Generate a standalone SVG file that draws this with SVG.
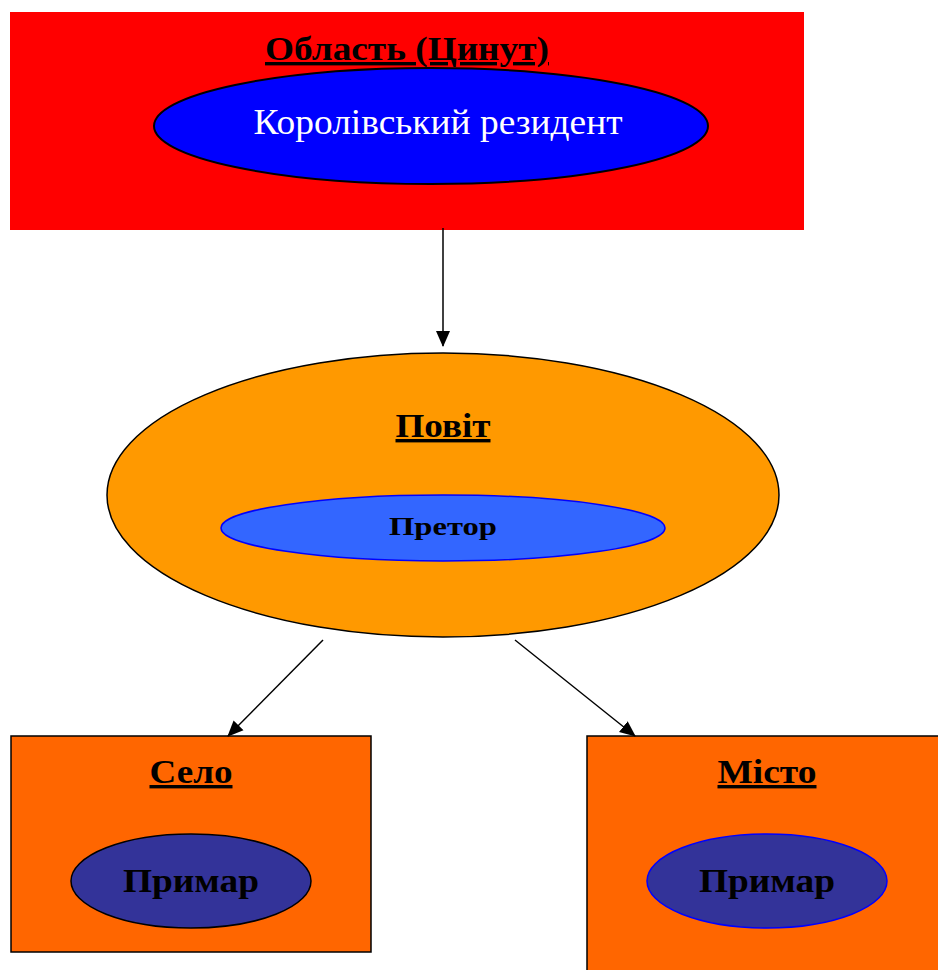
<svg xmlns="http://www.w3.org/2000/svg" width="938" height="970" viewBox="0 0 938 970">
<style>
.t{font-family:"Liberation Serif","Times New Roman",serif;font-weight:bold;fill:#000;text-anchor:middle}
.u{text-decoration:underline}
.c{stroke:#000;stroke-width:1.5;fill:none}
</style>
<defs>
<marker id="ah2" viewBox="0 0 16 16" refX="15" refY="8" markerWidth="16" markerHeight="16" orient="auto" markerUnits="userSpaceOnUse">
<path d="M0,1 L16,8 L0,15 Z" fill="#000"/>
</marker>
</defs>
<rect width="938" height="970" fill="#fff"/>
<g id="oblast">
<rect x="10" y="12" width="794" height="218" fill="#FF0000"/>
<text class="t u" x="407" y="60" font-size="34" textLength="284" lengthAdjust="spacingAndGlyphs">Область (Цинут)</text>
<ellipse cx="431" cy="126" rx="277" ry="58" fill="#0000FF" stroke="#000" stroke-width="2"/>
<text x="438" y="134" font-family="'Liberation Serif','Times New Roman',serif" font-size="35" fill="#fff" text-anchor="middle" textLength="369" lengthAdjust="spacingAndGlyphs">Королівський резидент</text>
</g>
<g id="povit">
<ellipse cx="443" cy="495" rx="336" ry="142" fill="#FF9900" stroke="#000" stroke-width="1.5"/>
<text class="t u" x="443" y="437" font-size="34" textLength="95" lengthAdjust="spacingAndGlyphs">Повіт</text>
<ellipse cx="443" cy="528" rx="222" ry="33" fill="#3366FF" stroke="#0000FF" stroke-width="1.5"/>
<text class="t" x="443" y="535" font-size="25" textLength="108" lengthAdjust="spacingAndGlyphs">Претор</text>
</g>
<g id="selo">
<rect x="11" y="736" width="360" height="216" fill="#FF6600" stroke="#000" stroke-width="1.5"/>
<text class="t u" x="191" y="783" font-size="34" textLength="83" lengthAdjust="spacingAndGlyphs">Село</text>
<ellipse cx="191" cy="881" rx="120" ry="47" fill="#333399" stroke="#000" stroke-width="1.5"/>
<text class="t" x="191" y="892" font-size="34" textLength="136" lengthAdjust="spacingAndGlyphs">Примар</text>
</g>
<g id="misto">
<rect x="587" y="736" width="360" height="245" fill="#FF6600" stroke="#000" stroke-width="1.5"/>
<text class="t u" x="767" y="783" font-size="34" textLength="99" lengthAdjust="spacingAndGlyphs">Місто</text>
<ellipse cx="767" cy="881" rx="120" ry="47" fill="#333399" stroke="#0000FF" stroke-width="1.5"/>
<text class="t" x="767" y="892" font-size="34" textLength="136" lengthAdjust="spacingAndGlyphs">Примар</text>
</g>
<g id="connectors">
<line class="c" x1="443" y1="228" x2="443" y2="346" marker-end="url(#ah2)"/>
<line class="c" x1="323" y1="640" x2="228" y2="736" marker-end="url(#ah2)"/>
<line class="c" x1="515" y1="640" x2="635" y2="736" marker-end="url(#ah2)"/>
</g>
</svg>
